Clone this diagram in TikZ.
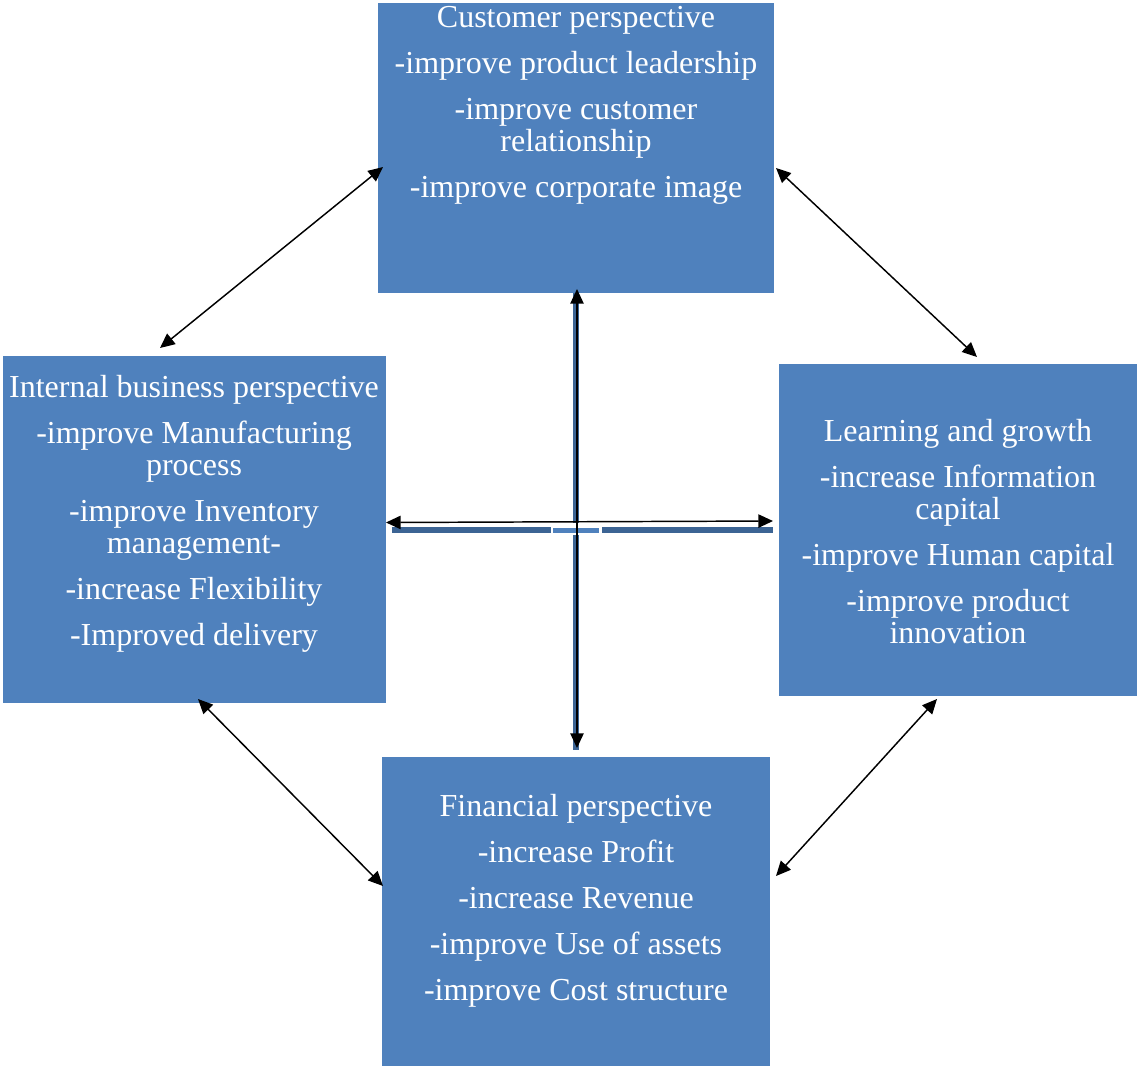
\documentclass[tikz,border=0pt]{standalone}
\usepackage{fontspec}
\setmainfont{Liberation Serif}
\usetikzlibrary{arrows.meta}
\definecolor{boxblue}{HTML}{4F81BD}
\definecolor{barblue}{HTML}{3C6494}
\tikzset{
  box/.style={draw=none, fill=boxblue, rectangle, inner sep=0pt},
  txt/.style={text=white, align=center, inner sep=0pt, font=\fontsize{24}{24}\selectfont},
  dbl/.style={line width=1.1pt, {Triangle[length=11pt,width=10pt]}-{Triangle[length=11pt,width=10pt]}},
  bar/.style={draw=none, fill=barblue}
}
\begin{document}
\begin{tikzpicture}[x=0.75pt,y=-0.75pt]
\useasboundingbox (0,0) rectangle (1138,1068);
% boxes
\node[box, minimum width=297pt, minimum height=217.5pt] (cust) at (576,148) {};
\node[box, minimum width=287.25pt, minimum height=260.25pt] (intl) at (194.5,529.5) {};
\node[box, minimum width=268.5pt, minimum height=249pt] (learn) at (958,530) {};
\node[box, minimum width=291pt, minimum height=231.75pt] (fin) at (576,911.5) {};
% texts
\node[txt] (custT) at (576,105.5) {Customer perspective\\[10.5pt]-improve product leadership\\[10.5pt]-improve customer\\relationship\\[10.5pt]-improve corporate image};
\node[txt] (intlT) at (194,513.5) {Internal business perspective\\[10.5pt]-improve Manufacturing\\process\\[10.5pt]-improve Inventory\\management-\\[10.5pt]-increase Flexibility\\[10.5pt]-Improved delivery};
\node[txt] (learnT) at (958,531.5) {Learning and growth\\[10.5pt]-increase Information\\capital\\[10.5pt]-improve Human capital\\[10.5pt]-improve product\\innovation};
\node[txt] (finT) at (576,900.5) {Financial perspective\\[10.5pt]-increase Profit\\[10.5pt]-increase Revenue\\[10.5pt]-improve Use of assets\\[10.5pt]-improve Cost structure};
% blue bars
\fill[bar] (573,293) rectangle (579,523);
\fill[bar] (573,535) rectangle (579,750);
\fill[bar] (392,527) rectangle (551,533);
\fill[boxblue] (553,528) rectangle (599,533);
\fill[bar] (602,527) rectangle (773,533);
% arrow end points
\coordinate (c1) at (383,167);
\coordinate (i1) at (160,348);
\coordinate (c2) at (776,168);
\coordinate (l1) at (977,357);
\coordinate (i2) at (198,699);
\coordinate (f1) at (383,886);
\coordinate (l2) at (937,699);
\coordinate (f2) at (776,876);
\coordinate (i3) at (386,522.5);
\coordinate (l3) at (773,521);
\coordinate (c3) at (577,289);
\coordinate (f3) at (577,748);
\draw[dbl] (c1) -- (i1);
\draw[dbl] (c2) -- (l1);
\draw[dbl] (i2) -- (f1);
\draw[dbl] (l2) -- (f2);
\draw[dbl] (i3) -- (l3);
\draw[dbl] (c3) -- (f3);
\end{tikzpicture}
\end{document}
